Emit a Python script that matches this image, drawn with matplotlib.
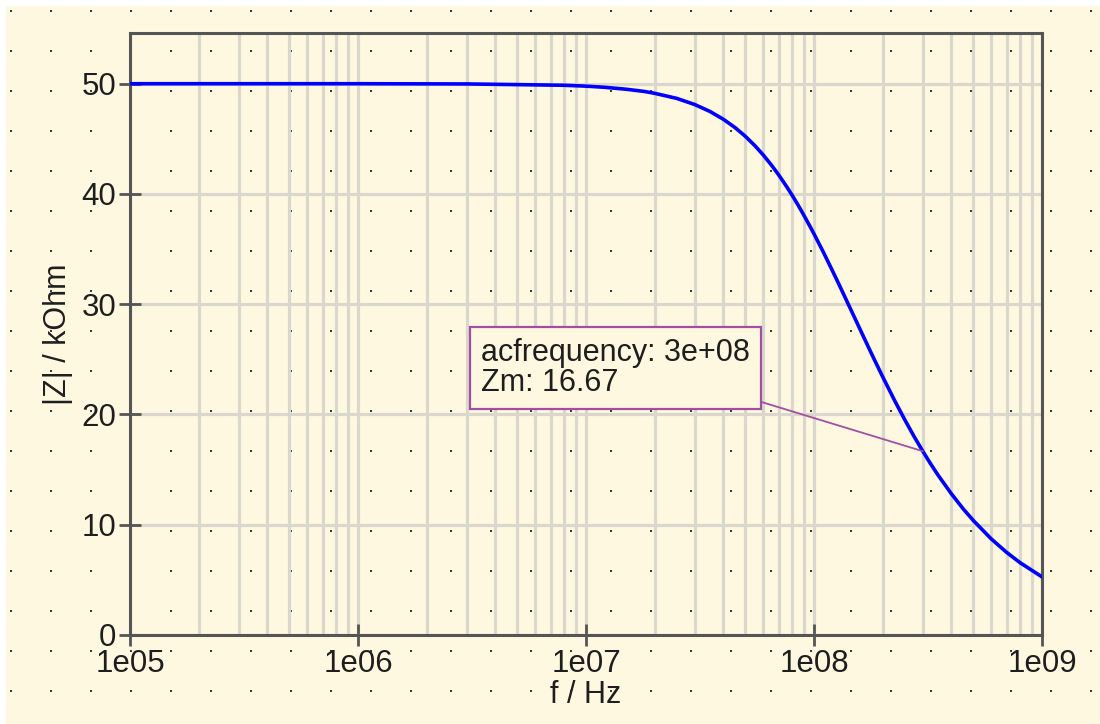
import numpy as np
import matplotlib
matplotlib.use("Agg")
from matplotlib import pyplot as plt
from matplotlib.patches import Rectangle
from matplotlib.ticker import LogLocator, FixedLocator, FuncFormatter

# values
freq = [1e5, 1e6, 3e6, 8e6, 1e7, 1.2e7, 1.5e7, 1.8e7, 2e7, 2.5e7, 3e7, 3.5e7, 4e7,
        4.5e7, 5e7, 5.5e7, 6e7, 6.5e7, 7e7, 7.5e7, 8e7, 8.5e7, 9e7, 9.5e7,
        1e8, 1.1e8, 1.2e8, 1.3e8, 1.4e8, 1.5e8, 1.6e8, 1.75e8, 1.85e8, 2e8, 2.25e8,
        2.5e8, 2.75e8, 3e8, 3.25e8, 3.5e8, 4e8, 4.5e8, 5e8, 6e8, 7e8, 8e8, 1e9]
zm = [50.00, 50.00, 49.98, 49.86, 49.78, 49.68, 49.50, 49.30, 49.13, 48.67, 48.11,
      47.48, 46.78, 46.03, 45.23, 44.39, 43.52, 42.63, 41.73, 40.82, 39.92, 39.02,
      38.12, 37.24, 36.38, 34.71, 33.11, 31.61, 30.19, 28.87, 27.63, 25.92, 24.87,
      23.43, 21.32, 19.53, 17.99, 16.67, 15.51, 14.50, 12.82, 11.47, 10.38, 8.70,
      7.49, 6.57, 5.27]
yticks = [0, 10, 20, 30, 40, 50]
xticks = [1e5, 1e6, 1e7, 1e8, 1e9]
xticklabels = ["1e05", "1e06", "1e07", "1e08", "1e09"]
marker_f = 3e8
marker_z = 16.67

cream = "#fff8e1"
plt.rcParams["font.family"] = ["Liberation Sans", "DejaVu Sans"]

fig = plt.figure(figsize=(11, 7.24), dpi=100, facecolor="white")

# background with the dot raster (pixel coords)
bg = fig.add_axes([0, 0, 1, 1], zorder=-10)
bg.set_xlim(0, 1100)
bg.set_ylim(724, 0)
bg.axis("off")
bg.add_patch(Rectangle((6, 6), 1094, 718, facecolor=cream, edgecolor="none"))
dx, dy = np.meshgrid(np.arange(11, 1100, 40), np.arange(11, 724, 40))
bg.scatter(dx.ravel(), dy.ravel(), s=2.2, marker="s", color="#3a3a3a", linewidths=0)

ax = fig.add_axes([130 / 1100, 89 / 724, 912 / 1100, 602 / 724])
ax.set_facecolor("none")
ax.set_xscale("log")
ax.set_xlim(1e5, 1e9)
ax.set_ylim(0, 54.6)

ax.xaxis.set_major_locator(FixedLocator(xticks))
ax.xaxis.set_major_formatter(FuncFormatter(lambda v, p: xticklabels[xticks.index(v)] if v in xticks else ""))
ax.xaxis.set_minor_locator(LogLocator(base=10, subs=np.arange(2, 10)))
ax.xaxis.set_minor_formatter(FuncFormatter(lambda v, p: ""))
ax.set_yticks(yticks)

ax.grid(True, which="both", axis="x", color="#dad8cd", lw=2.3)
ax.grid(True, which="major", axis="y", color="#dad8cd", lw=2.3)
ax.set_axisbelow(True)

ax.tick_params(which="major", direction="inout", length=16, width=2, color="#555555",
               labelsize=22.5, labelcolor="#1e1e1e", pad=2)
ax.tick_params(which="minor", length=0)
for s in ax.spines.values():
    s.set_color("#555555")
    s.set_linewidth(2.2)

ax.plot(freq, zm, color="#0000ff", lw=2.6, zorder=3)

ax.set_xlabel("f / Hz", fontsize=22, color="#1e1e1e", labelpad=1)
ax.set_ylabel("|Z| / kOhm", fontsize=22, color="#1e1e1e", labelpad=6)

# marker annotation
ax.annotate("acfrequency: 3e+08\nZm: 16.67", xy=(marker_f, marker_z),
            xytext=(481, 724 - 338), textcoords="figure pixels",
            ha="left", va="top", fontsize=22, color="#1e1e1e", linespacing=1.02,
            bbox=dict(boxstyle="square,pad=0.36", facecolor=cream, edgecolor="#a24fa2", lw=1.6),
            arrowprops=dict(arrowstyle="-", color="#a24fa2", lw=1.3, relpos=(1, 0),
                            shrinkA=0, shrinkB=0),
            zorder=5)

fig.savefig("out.png", dpi=100, facecolor=fig.get_facecolor())
